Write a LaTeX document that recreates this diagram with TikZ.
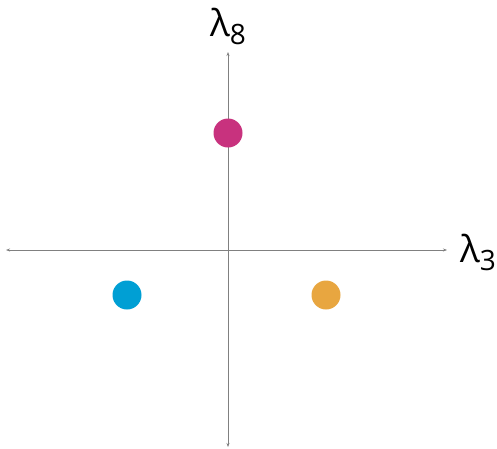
\documentclass[tikz,border=0pt]{standalone}
\usepackage{fontspec}
\setmainfont{Open Sans}
\usepackage{xcolor}
\definecolor{wmagenta}{RGB}{200,50,126}
\definecolor{wblue}{RGB}{0,159,212}
\definecolor{worange}{RGB}{232,166,64}
\usetikzlibrary{arrows.meta}
\tikzset{
  axis/.style={draw=gray, line width=0.6pt, {Stealth[length=4pt,width=3pt]}-{Stealth[length=4pt,width=3pt]}},
  weight/.style={circle, inner sep=0pt, minimum size=29pt},
  axlabel/.style={inner sep=0pt, font=\fontsize{37}{40}\selectfont}
}
\newcommand{\lam}[1]{λ\raisebox{-0.4ex}{\fontsize{28}{32}\selectfont #1}}

\begin{document}
\begin{tikzpicture}[x=1pt, y=-1pt]
  \useasboundingbox (0,0) rectangle (497,448);
  % axes
  \coordinate (xl) at (6,250);
  \coordinate (xr) at (447,250);
  \coordinate (yt) at (228,52);
  \coordinate (yb) at (228,447);
  \draw[axis] (xl) -- (xr);
  \draw[axis] (yb) -- (yt);
  \node[axlabel] (lab8) at (228,26) {\lam{8}};
  \node[axlabel] (lab3) at (478,252) {\lam{3}};
  % weights
  \node[weight, fill=wmagenta] (up) at (228,133) {};
  \node[weight, fill=wblue] (left) at (127,295) {};
  \node[weight, fill=worange] (right) at (326,295) {};
\end{tikzpicture}
\end{document}
